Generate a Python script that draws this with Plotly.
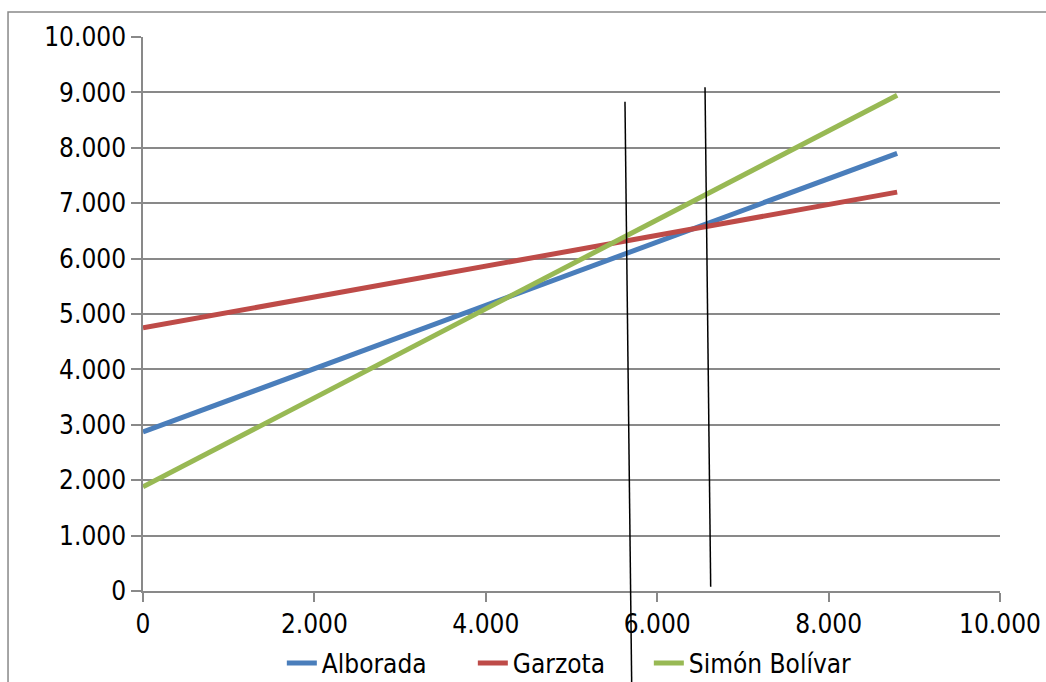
import plotly.graph_objects as go

# Series data (x, y endpoints)
series_names = ["Alborada", "Garzota", "Simón Bolívar"]
series_x = [[0, 8800], [0, 8800], [0, 8800]]
series_y = [[2870, 7900], [4750, 7200], [1880, 8950]]
series_colors = ["#4A7EBB", "#BE4B48", "#98B954"]
legend_widths = [146, 131, 190]

# Hand-drawn black marker lines (data coordinates)
marker_x = [[5624, 5702], [6558, 6624]]
marker_y = [[8832, -1643], [9092, 78]]

x_ticks = [0, 2000, 4000, 6000, 8000, 10000]
y_ticks = [0, 1000, 2000, 3000, 4000, 5000, 6000, 7000, 8000, 9000, 10000]
x_range = [0, 10000]
y_range = [0, 10000]

FONT = "DejaVu Sans Condensed, DejaVu Sans, sans-serif"
GRID = "#898989"

fig = go.Figure()
for name, xs, ys, col, lw in zip(series_names, series_x, series_y, series_colors, legend_widths):
    fig.add_trace(go.Scatter(x=xs, y=ys, mode="lines", name=name,
                             legendwidth=lw,
                             line=dict(color=col, width=5)))

shapes = []
for xs, ys in zip(marker_x, marker_y):
    shapes.append(dict(type="line", xref="x domain", yref="y domain",
                       x0=(xs[0] - x_range[0]) / (x_range[1] - x_range[0]),
                       x1=(xs[1] - x_range[0]) / (x_range[1] - x_range[0]),
                       y0=(ys[0] - y_range[0]) / (y_range[1] - y_range[0]),
                       y1=(ys[1] - y_range[0]) / (y_range[1] - y_range[0]),
                       line=dict(color="black", width=1.5), layer="above"))
# outer chart border
shapes.append(dict(type="rect", xref="paper", yref="paper",
                   x0=-0.1575, x1=1.2, y0=-0.4, y1=1.045,
                   line=dict(color=GRID, width=1.5), layer="below"))

fig.update_layout(
    width=1046, height=682,
    margin=dict(l=143, r=46, t=37, b=91, autoexpand=False),
    paper_bgcolor="white", plot_bgcolor="white",
    separators=",.",
    font=dict(family=FONT, size=26, color="black"),
    showlegend=True,
    legend=dict(orientation="h", x=0.162, xanchor="left", y=-0.13, yanchor="middle",
                bgcolor="rgba(0,0,0,0)",
                font=dict(family=FONT, size=26, color="black"),
                itemwidth=30, tracegroupgap=0),
    xaxis=dict(range=x_range, tickvals=x_ticks, tickformat=",.0f",
               showgrid=False, zeroline=False, showline=True, linecolor=GRID,
               linewidth=1.5, ticks="outside", ticklen=9, tickcolor=GRID,
               tickwidth=1.5, automargin=False,
               tickfont=dict(family=FONT, size=26)),
    yaxis=dict(range=y_range, tickvals=y_ticks, tickformat=",.0f",
               showgrid=True, gridcolor=GRID, gridwidth=1.5, zeroline=False,
               showline=True, linecolor=GRID, linewidth=1.5, ticks="outside",
               ticklen=10, tickcolor=GRID, tickwidth=1.5, automargin=False,
               tickfont=dict(family=FONT, size=26)),
    shapes=shapes,
)

fig.write_html("out.html",
               config={"displayModeBar": False},
               post_script="document.body.style.margin='0';document.body.style.overflow='hidden';")
